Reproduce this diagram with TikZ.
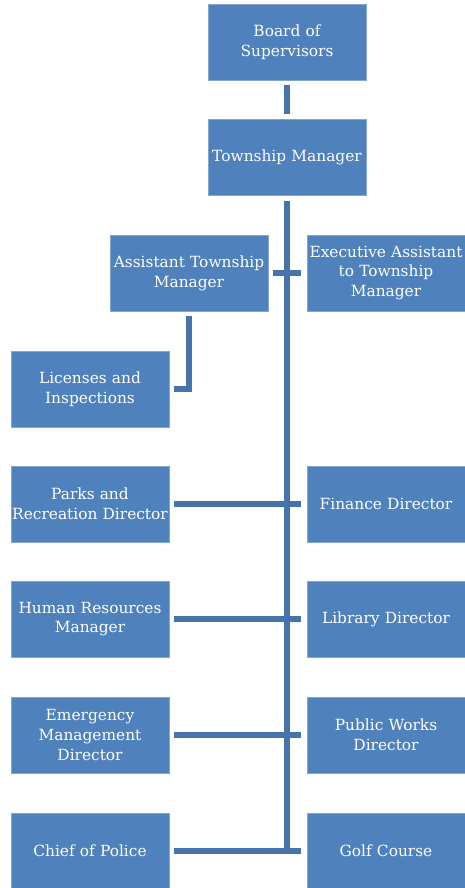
\documentclass[tikz,border=0pt]{standalone}
\usepackage{fontspec}
\setmainfont{DejaVu Serif}
\definecolor{boxblue}{HTML}{4F81BD}
\definecolor{lineblue}{HTML}{4673AC}
\tikzset{
  post/.style={fill=boxblue, draw=boxblue!70!white, line width=0.6pt,
    text width=156pt, minimum height=76pt, inner sep=1pt,
    text=white, align=center, font=\fontsize{15.4}{19.8}\selectfont},
  conn/.style={draw=lineblue, line width=5.5pt}
}
\begin{document}
\begin{tikzpicture}[x=1pt,y=-1pt]
 \useasboundingbox (0,0) rectangle (465,888);
 % boxes
 \node[post] (board) at (287,42) {Board of\\Supervisors};
 \node[post] (tm) at (287,157) {Township Manager};
 \node[post] (asst) at (189,273) {Assistant Township\\Manager};
 \node[post] (exec) at (386,273) {Executive Assistant\\to Township\\Manager};
 \node[post] (lic) at (90,389) {Licenses and\\Inspections};
 \node[post] (parks) at (90,504) {Parks and\\Recreation Director};
 \node[post] (fin) at (386,504) {Finance Director};
 \node[post] (hr) at (90,619) {Human Resources\\Manager};
 \node[post] (lib) at (386,619) {Library Director};
 \node[post] (em) at (90,735) {Emergency\\Management\\Director};
 \node[post] (pw) at (386,735) {Public Works\\Director};
 \node[post] (chief) at (90,851) {Chief of Police};
 \node[post] (golf) at (386,851) {Golf Course};
 % lines
 \draw[conn] ([yshift=-5pt]board.south) -- ([yshift=5pt]tm.north);
 \draw[conn] ([yshift=-6pt]tm.south) -- (tm.south |- golf.west);
 \draw[conn] ([xshift=5pt]asst.east) -- ([xshift=-6pt]exec.west);
 \draw[conn] ([yshift=-5pt]asst.south) |- ([xshift=5pt]lic.east);
 \draw[conn] ([xshift=5pt]parks.east) -- ([xshift=-6pt]fin.west);
 \draw[conn] ([xshift=5pt]hr.east) -- ([xshift=-6pt]lib.west);
 \draw[conn] ([xshift=5pt]em.east) -- ([xshift=-6pt]pw.west);
 \draw[conn] ([xshift=5pt]chief.east) -- ([xshift=-6pt]golf.west);
\end{tikzpicture}
\end{document}
